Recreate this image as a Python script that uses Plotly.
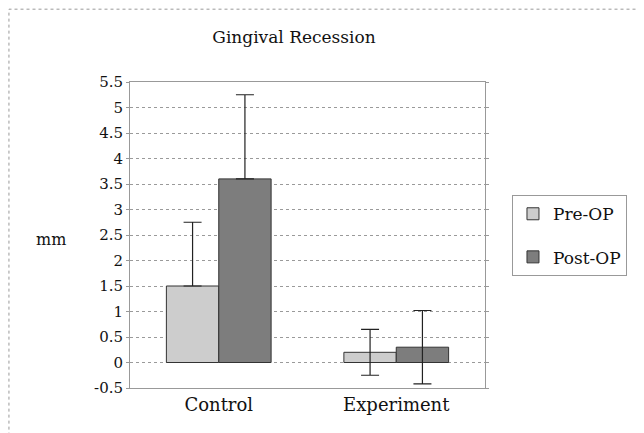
import plotly.graph_objects as go

categories = ["Control", "Experiment"]
pre_op = [1.5, 0.2]
pre_op_err = [1.25, 0.45]
pre_op_err_minus = [0.0, 0.45]
post_op = [3.6, 0.3]
post_op_err = [1.65, 0.72]
post_op_err_minus = [0.0, 0.72]
y_tick_vals = [-0.5, 0, 0.5, 1, 1.5, 2, 2.5, 3, 3.5, 4, 4.5, 5, 5.5]
y_tick_text = ["-0.5", "0", "0.5", "1", "1.5", "2", "2.5", "3", "3.5", "4", "4.5", "5", "5.5"]

serif = "DejaVu Serif"

fig = go.Figure()
fig.add_trace(go.Bar(
    x=categories, y=pre_op, name="Pre-OP", legendgroup="a",
    marker=dict(color="#cdcdcd", line=dict(color="#333333", width=1)),
    error_y=dict(type="data", array=pre_op_err, arrayminus=pre_op_err_minus,
                 symmetric=False, color="#222222", thickness=1.2, width=9),
))
fig.add_trace(go.Bar(
    x=categories, y=post_op, name="Post-OP", legendgroup="b",
    marker=dict(color="#7d7d7d", line=dict(color="#333333", width=1)),
    error_y=dict(type="data", array=post_op_err, arrayminus=post_op_err_minus,
                 symmetric=False, color="#222222", thickness=1.2, width=9),
))

fig.update_layout(
    width=644, height=433,
    margin=dict(l=122, r=167, t=74, b=53),
    paper_bgcolor="white", plot_bgcolor="white",
    barmode="group", bargap=0.41, bargroupgap=0,
    font=dict(family=serif, size=15, color="#111111"),
    title=dict(text="Gingival Recession", x=286 / 644, xanchor="center",
               y=1 - 29 / 433, yanchor="middle", yref="container",
               font=dict(family=serif, size=17, color="#111111")),
    showlegend=True,
    legend=dict(x=1.076, y=0.63, xanchor="left", yanchor="top",
                bordercolor="#999999", borderwidth=1, bgcolor="white",
                tracegroupgap=18, itemwidth=30,
                font=dict(family=serif, size=17, color="#111111")),
    xaxis=dict(showgrid=False, showline=True, linecolor="#999999", mirror=True,
               ticks="", tickfont=dict(family=serif, size=18)),
    yaxis=dict(range=[-0.5, 5.5], tickvals=y_tick_vals, ticktext=y_tick_text,
               showgrid=True, gridcolor="#9a9a9a", griddash="dot", gridwidth=1,
               showline=True, linecolor="#999999", mirror="ticks",
               ticks="outside", ticklen=3, tickcolor="#999999",
               zeroline=False, tickfont=dict(family=serif, size=15)),
)

fig.add_annotation(text="mm", xref="paper", yref="paper",
                   x=(43 - 122) / 355, y=(380 - 231) / 306,
                   xanchor="center", yanchor="middle", showarrow=False,
                   font=dict(family=serif, size=16, color="#111111"))

# outer frame
fig.add_shape(type="rect", xref="paper", yref="paper",
              x0=-0.341, x1=1.442, y0=-0.3, y1=1.238,
              line=dict(color="#999999", width=1, dash="dot"))

fig.write_html("out.html")
